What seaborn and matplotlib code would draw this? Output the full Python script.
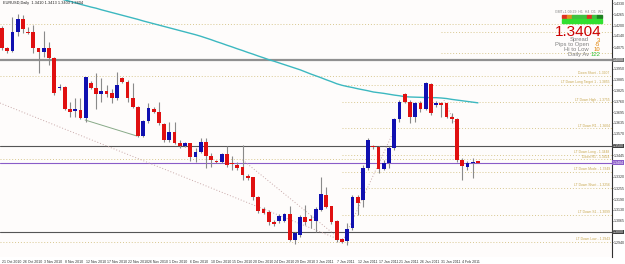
import numpy as np
import pandas as pd
import matplotlib
matplotlib.use("Agg")
import matplotlib.pyplot as plt
import seaborn as sns

# ---------------- data ----------------
opens = [1.4186, 1.4069, 1.4052, 1.4162, 1.4239, 1.4162, 1.4162, 1.4069, 1.4046, 1.4069,
         1.4011, 1.3837, 1.3843, 1.3715, 1.3703, 1.3709, 1.3662, 1.3867, 1.3837, 1.3803,
         1.3820, 1.3809, 1.3779, 1.3895, 1.3872, 1.3779, 1.3726, 1.3558, 1.3645, 1.3715,
         1.3697, 1.3628, 1.3535, 1.3581, 1.3518, 1.3500, 1.3518, 1.3436, 1.3465, 1.3523,
         1.3442, 1.3413, 1.3407, 1.3454, 1.3402, 1.3390, 1.3378, 1.3325, 1.3319, 1.3203,
         1.3134, 1.3116, 1.3058, 1.3064, 1.3064, 1.3105, 1.2953, 1.2983, 1.3087, 1.3076,
         1.3064, 1.3128, 1.3215, 1.3151, 1.3064, 1.2960, 1.2947, 1.3024, 1.3203, 1.3186,
         1.3372, 1.3500, 1.3494, 1.3366, 1.3402, 1.3488, 1.3657, 1.3803, 1.3755, 1.3668,
         1.3750, 1.3715, 1.3861, 1.3738, 1.3750, 1.3750, 1.3668, 1.3657, 1.3419, 1.3378,
         1.3402, 1.3410]
highs = [1.4198, 1.4075, 1.4250, 1.4268, 1.4262, 1.4192, 1.4204, 1.4069, 1.4168, 1.4104,
         1.4017, 1.3861, 1.3849, 1.3755, 1.3779, 1.3779, 1.3901, 1.3878, 1.3925, 1.3895,
         1.3855, 1.3832, 1.3930, 1.3901, 1.3884, 1.3867, 1.3732, 1.3651, 1.3750, 1.3726,
         1.3755, 1.3634, 1.3639, 1.3639, 1.3535, 1.3523, 1.3518, 1.3488, 1.3546, 1.3546,
         1.3459, 1.3419, 1.3459, 1.3500, 1.3442, 1.3407, 1.3506, 1.3337, 1.3319, 1.3209,
         1.3145, 1.3128, 1.3070, 1.3105, 1.3111, 1.3151, 1.3000, 1.3099, 1.3157, 1.3099,
         1.3145, 1.3319, 1.3261, 1.3151, 1.3070, 1.2965, 1.3053, 1.3215, 1.3215, 1.3390,
         1.3546, 1.3506, 1.3500, 1.3419, 1.3500, 1.3662, 1.3767, 1.3809, 1.3767, 1.3755,
         1.3761, 1.3872, 1.3867, 1.3761, 1.3755, 1.3750, 1.3692, 1.3662, 1.3430, 1.3413,
         1.3430, 1.3413]
lows = [1.4058, 1.4041, 1.4046, 1.4139, 1.4157, 1.4151, 1.4041, 1.3925, 1.4017, 1.3971,
        1.3797, 1.3826, 1.3709, 1.3668, 1.3668, 1.3657, 1.3639, 1.3832, 1.3715, 1.3755,
        1.3785, 1.3750, 1.3767, 1.3867, 1.3755, 1.3720, 1.3552, 1.3552, 1.3634, 1.3692,
        1.3622, 1.3523, 1.3523, 1.3512, 1.3488, 1.3494, 1.3413, 1.3407, 1.3459, 1.3372,
        1.3378, 1.3402, 1.3402, 1.3378, 1.3360, 1.3360, 1.3302, 1.3302, 1.3186, 1.3111,
        1.3105, 1.3041, 1.3035, 1.3053, 1.3058, 1.2947, 1.2930, 1.2971, 1.3041, 1.3024,
        1.3000, 1.3122, 1.3140, 1.3047, 1.2941, 1.2936, 1.2924, 1.3012, 1.3099, 1.3145,
        1.3360, 1.3483, 1.3343, 1.3360, 1.3372, 1.3477, 1.3639, 1.3750, 1.3634, 1.3639,
        1.3697, 1.3709, 1.3680, 1.3726, 1.3668, 1.3662, 1.3634, 1.3407, 1.3302, 1.3360,
        1.3313, 1.3403]
closes = [1.4069, 1.4052, 1.4162, 1.4239, 1.4181, 1.4157, 1.4069, 1.4046, 1.4069, 1.4011,
          1.3809, 1.3843, 1.3715, 1.3697, 1.3715, 1.3662, 1.3901, 1.3837, 1.3803, 1.3820,
          1.3803, 1.3779, 1.3855, 1.3872, 1.3779, 1.3726, 1.3558, 1.3645, 1.3720, 1.3697,
          1.3634, 1.3535, 1.3581, 1.3518, 1.3500, 1.3518, 1.3436, 1.3465, 1.3523, 1.3442,
          1.3419, 1.3407, 1.3454, 1.3390, 1.3396, 1.3372, 1.3331, 1.3313, 1.3203, 1.3122,
          1.3111, 1.3058, 1.3047, 1.3093, 1.3105, 1.2953, 1.2995, 1.3087, 1.3058, 1.3064,
          1.3134, 1.3221, 1.3145, 1.3058, 1.2953, 1.2941, 1.3018, 1.3203, 1.3168, 1.3372,
          1.3535, 1.3494, 1.3366, 1.3402, 1.3488, 1.3657, 1.3755, 1.3755, 1.3668, 1.3750,
          1.3715, 1.3867, 1.3692, 1.3750, 1.3738, 1.3668, 1.3657, 1.3419, 1.3384, 1.3402,
          1.3407, 1.3404]
ma_line = [1.4446, 1.4438, 1.4430, 1.4422, 1.4414, 1.4406, 1.4398, 1.4390, 1.4381, 1.4373,
           1.4365, 1.4357, 1.4349, 1.4341, 1.4333, 1.4324, 1.4316, 1.4308, 1.4301, 1.4292,
           1.4284, 1.4276, 1.4268, 1.4260, 1.4252, 1.4244, 1.4236, 1.4227, 1.4219, 1.4211,
           1.4203, 1.4195, 1.4187, 1.4179, 1.4171, 1.4163, 1.4155, 1.4147, 1.4138, 1.4128,
           1.4118, 1.4107, 1.4097, 1.4086, 1.4076, 1.4065, 1.4055, 1.4044, 1.4034, 1.4023,
           1.4013, 1.4002, 1.3993, 1.3983, 1.3973, 1.3963, 1.3953, 1.3943, 1.3931, 1.3919,
           1.3908, 1.3897, 1.3885, 1.3874, 1.3862, 1.3853, 1.3846, 1.3840, 1.3833, 1.3827,
           1.3821, 1.3814, 1.3810, 1.3806, 1.3801, 1.3796, 1.3792, 1.3787, 1.3785, 1.3784,
           1.3783, 1.3782, 1.3781, 1.3781, 1.3779, 1.3776, 1.3771, 1.3767, 1.3763, 1.3759,
           1.3755, 1.3751]
date_labels = ["21 Oct 2010", "26 Oct 2010", "3 Nov 2010", "8 Nov 2010", "12 Nov 2010",
               "17 Nov 2010", "22 Nov 2010", "26 Nov 2010", "1 Dec 2010", "6 Dec 2010",
               "10 Dec 2010", "15 Dec 2010", "20 Dec 2010", "24 Dec 2010", "29 Dec 2010",
               "3 Jan 2011", "7 Jan 2011", "12 Jan 2011", "17 Jan 2011", "21 Jan 2011",
               "26 Jan 2011", "31 Jan 2011", "4 Feb 2011"]
price_ticks = [1.4330, 1.4265, 1.4200, 1.4140, 1.4075, 1.3950, 1.3885, 1.3825, 1.3760,
               1.3695, 1.3635, 1.3570, 1.3445, 1.3320, 1.3255, 1.3190, 1.3130, 1.3065, 1.2940]
round_levels = [1.4000, 1.3500, 1.3000]
current_price = 1.3404
full_level_names = ["", "Down Short", "Down R1", "LT Down Low"]
full_level_prices = [1.4209, 1.3907, 1.3424, 1.2943]
lt_level_names = ["LT Down Long Target 1", "LT Down High", "LT Down R1", "LT Down Long",
                  "LT Down Mode", "LT Down Short", "LT Down S1"]
lt_level_prices = [1.3855, 1.3755, 1.3604, 1.3448, 1.3349, 1.3256, 1.3099]
upper_level_prices = [1.4162, 1.4041]
panel_labels = ["Spread", "Pips to Open", "Hi to Low", "Daily Av"]
panel_values = ["3", "-5", "10", "122"]

# ---------------- style ----------------
sns.set_theme(style="white")
plt.rcParams["font.family"] = ["Liberation Sans", "DejaVu Sans"]

W, H = 625, 264
fig = plt.figure(figsize=(W / 100, H / 100), dpi=100)
fig.patch.set_facecolor("#ffffff")
bottom_px = 257
ax = fig.add_axes([0, (H - bottom_px) / H, 612 / W, bottom_px / H])
bg = "#fefcfb"
ax.set_facecolor(bg)

n = len(opens)
idx = np.arange(n)
df = pd.DataFrame({"i": idx, "o": opens, "h": highs, "l": lows, "c": closes, "ma": ma_line})
px = 0.05 / 86  # price per pixel
ax.set_ylim(1.40 - (bottom_px - 60) * px, 1.40 + 60 * px)
ax.set_xlim(-2 / 5.23, 610 / 5.23)

# level lines
gold = "#d8c890"
for p in full_level_prices:
    ax.axhline(p, color=gold, lw=0.7, ls=(0, (1, 2)), zorder=1)
for p in lt_level_prices:
    ax.hlines(p, 65, 116.6, color=gold, lw=0.7, ls=(0, (1, 2)), zorder=1)
for p in upper_level_prices:
    ax.hlines(p, 84, 116.6, color=gold, lw=0.7, ls=(0, (1, 2)), zorder=1)
for nm, p in zip(full_level_names + lt_level_names, full_level_prices + lt_level_prices):
    if nm:
        ax.text(116.2, p + 0.0003, f"{nm} - {p:.4f}", fontsize=2.4, color="#c8a850",
                ha="right", va="bottom", zorder=2)

# round number lines + current price line
ax.axhline(round_levels[0], color="#909090", lw=1.6, zorder=2)
for p in round_levels[1:]:
    ax.axhline(p, color="#555555", lw=0.8, zorder=2)
ax.axhline(current_price, color="#8a5cc8", lw=0.8, zorder=2)

# trend lines
ax.plot([-0.4, 65], [1.3750, 1.2950], color="#c8a8a8", lw=0.7, ls=(0, (1, 2)), zorder=2)
ax.plot([46, 65], [1.3419, 1.2950], color="#c8a8a8", lw=0.7, ls=(0, (1, 2)), zorder=2)
ax.plot([15.9, 25.8], [1.3651, 1.3558], color="#88aa88", lw=0.7, zorder=2)
ax.plot([65, 75], [1.2936, 1.3593], color="#c8a8a8", lw=0.7, ls=(0, (1, 2)), zorder=2)
ax.plot([84.5, 86.5], [1.3767, 1.3640], color="#c8a8a8", lw=0.7, ls=(0, (1, 2)), zorder=2)

# moving average
sns.lineplot(data=df, x="i", y="ma", ax=ax, color="#3cb8c0", lw=1.0, zorder=3, estimator=None)

# candles
up = df["c"] >= df["o"]
ax.vlines(df["i"], df["l"], df["h"], color="#8a8a8a", lw=0.8, zorder=4)
body_lo = np.minimum(df["o"], df["c"])
body_h = np.maximum(np.abs(df["c"] - df["o"]), px * 1.2)
colors = np.where(up, "#1010b0", "#e01010")
ax.bar(df["i"], body_h, bottom=body_lo, width=0.72, color=colors, linewidth=0, zorder=5)

# axes decoration
for s in ["top", "left", "bottom"]:
    ax.spines[s].set_visible(False)
ax.spines["right"].set_color("#303030")
ax.spines["right"].set_linewidth(0.8)
ax.set_xlabel("")
ax.set_ylabel("")
ax.yaxis.tick_right()
ax.set_yticks(price_ticks)
ax.set_yticklabels([f"{p:.4f}" for p in price_ticks])
ax.tick_params(axis="y", labelsize=2.6, pad=0.4, length=0.8, width=0.5, colors="#303030")
ax.set_xticks(np.arange(len(date_labels)) * 4)
ax.set_xticklabels(date_labels)
ax.tick_params(axis="x", labelsize=2.5, pad=1, length=1.5, width=0.5, colors="#303030")
for t in ax.get_xticklabels():
    t.set_ha("left")

# boxed axis labels
for p, fc in [(1.4000, "#707070"), (1.3500, "#404040"), (1.3000, "#404040"), (current_price, "#8a5cc8")]:
    ax.annotate(f"{p:.4f}", xy=(1.0, p), xycoords=("axes fraction", "data"),
                xytext=(0.6, 0), textcoords="offset points", fontsize=2.6, color="white",
                va="center", ha="left", annotation_clip=False,
                bbox=dict(boxstyle="square,pad=0.1", fc=fc, ec="none"))

# header text
ax.text(0.005, 0.995, "EURUSD,Daily  1.3410 1.3413 1.3403 1.3404", transform=ax.transAxes,
        fontsize=2.8, color="#202020", ha="left", va="top")

# info panel
def fx(x):
    return x / W
def fy(y):
    return 1 - y / H
fig.text(fx(603), fy(12), "GMT+1 09:29  H1  H4  D1  W1", fontsize=2.5, color="#808080", ha="right", va="center")
cells = ["#e03020", "#e09020", "#40c040", "#40c040", "#40c040", "#e03020", "#40c040", "#208020"]
for k, c in enumerate(cells):
    fig.patches.append(plt.Rectangle((fx(562 + k * 5), fy(18)), 4.5 / W, 3 / H, color=c,
                                     transform=fig.transFigure, figure=fig))
    fig.patches.append(plt.Rectangle((fx(562 + k * 5), fy(23)), 4.5 / W, 4 / H, color="#30e030",
                                     transform=fig.transFigure, figure=fig))
fig.text(fx(602), fy(36), "1.3404", fontsize=11, color="#cc0000", ha="right", va="baseline")
vcols = ["#e08000", "#e08000", "#e08000", "#30c030"]
for k, (lab, val) in enumerate(zip(panel_labels, panel_values)):
    y = 41.5 + 4.8 * k
    fig.text(fx(589), fy(y), lab, fontsize=4.2, color="#808080", ha="right", va="baseline")
    fig.text(fx(600), fy(y), val, fontsize=4.2, color=vcols[k], ha="right", va="baseline")

fig.savefig("out.png", dpi=100, facecolor=fig.get_facecolor())
